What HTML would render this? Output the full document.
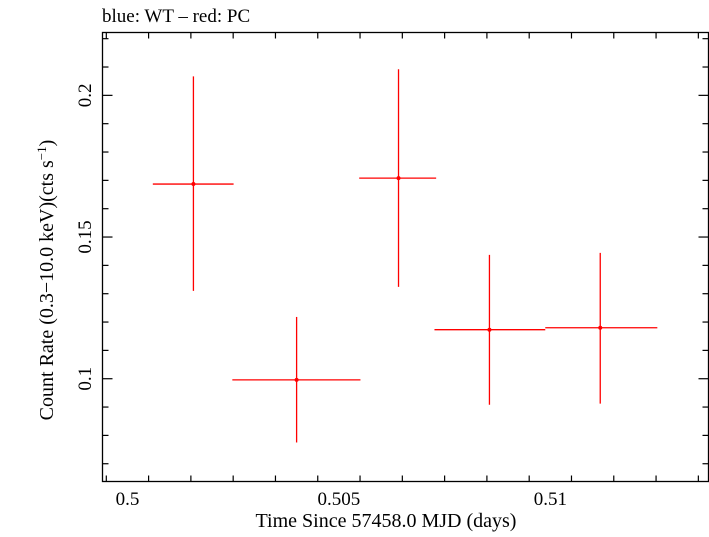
<!DOCTYPE html>
<html><head><meta charset="utf-8"><style>
html,body{margin:0;padding:0;background:#fff;overflow:hidden;}
svg text{font-family:"Liberation Serif",serif;fill:#000;}
</style></head><body>
<svg id="chart" width="709" height="532" viewBox="0 0 709 532" xmlns="http://www.w3.org/2000/svg">
<text x="102" y="22" font-size="19">blue: WT – red: PC</text>
<rect x="102.5" y="32.5" width="606" height="449" fill="none" stroke="#000" stroke-width="1.3"/>
<g id="axes"></g>
<g id="marks"></g>
<text x="386" y="527" font-size="20" text-anchor="middle">Time Since 57458.0 MJD (days)</text>
<text transform="translate(53,280) rotate(-90)" font-size="20" text-anchor="middle">Count Rate (0.3−10.0 keV)(cts s<tspan font-size="13" dy="-7">−1</tspan><tspan dy="7">)</tspan></text>
</svg>
<script>
const timeCenters=[0.50156,0.50400,0.50641,0.50856,0.51118];
const timeLow=[0.50060,0.50248,0.50548,0.50726,0.50988];
const timeHigh=[0.50251,0.50551,0.50730,0.50988,0.51253];
const rates=[0.1687,0.0996,0.1708,0.1173,0.1180];
const rateHigh=[0.2067,0.1218,0.2092,0.1437,0.1444];
const rateLow=[0.1310,0.0775,0.1324,0.0908,0.0912];
const xTicks=[0.5,0.505,0.51];
const xTickLabels=["0.5","0.505","0.51"];
const yTicks=[0.1,0.15,0.2];
const yTickLabels=["0.1","0.15","0.2"];

const X0=0.49941,X1=0.51374,PX0=102.5,PX1=708.5;
const Y0=0.06373,Y1=0.22218,PY0=481.5,PY1=32.5;
function xs(v){return PX0+(v-X0)/(X1-X0)*(PX1-PX0);}
function ys(v){return PY0+(v-Y0)/(Y1-Y0)*(PY1-PY0);}
const NS="http://www.w3.org/2000/svg";
function mk(tag,attrs,parent){const e=document.createElementNS(NS,tag);for(const k in attrs)e.setAttribute(k,attrs[k]);parent.appendChild(e);return e;}
const axes=document.getElementById('axes');
const marks=document.getElementById('marks');
for(let i=0;i<=14;i++){const v=0.4995+i*0.001;if(v<X0||v>X1)continue;
 const major=xTicks.some(m=>Math.abs(m-v)<1e-7);const L=major?10:6;
 const a=mk('line',{x1:xs(v),x2:xs(v),y1:PY0,y2:PY0-L,stroke:'#000','stroke-width':1.2},axes);
 
 
 const b=mk('line',{x1:xs(v),x2:xs(v),y1:PY1,y2:PY1+L,stroke:'#000','stroke-width':1.2},axes);
 
 
}
for(let i=0;i<=16;i++){const v=0.06+i*0.01;if(v<Y0||v>Y1)continue;
 const major=yTicks.some(m=>Math.abs(m-v)<1e-7);const L=major?10:6;
 const a=mk('line',{x1:PX0,x2:PX0+L,y1:ys(v),y2:ys(v),stroke:'#000','stroke-width':1.2},axes);
 
 
 const b=mk('line',{x1:PX1,x2:PX1-L,y1:ys(v),y2:ys(v),stroke:'#000','stroke-width':1.2},axes);
 
 
}
xTicks.forEach((v,i)=>{const t=mk('text',{x:xs(v),y:505,'font-size':19,'text-anchor':'middle'},axes);t.textContent=xTickLabels[i];
 
 });
yTicks.forEach((v,i)=>{const t=mk('text',{transform:`translate(91,${ys(v)}) rotate(-90)`,'font-size':19,'text-anchor':'middle'},axes);t.textContent=yTickLabels[i];
 
 });
timeCenters.forEach((c,i)=>{
 const g=mk('g',{},marks);
 
 
 mk('line',{x1:xs(timeLow[i]),x2:xs(timeHigh[i]),y1:ys(rates[i]),y2:ys(rates[i]),stroke:'#f00','stroke-width':1.3},g);
 mk('line',{x1:xs(c),x2:xs(c),y1:ys(rateLow[i]),y2:ys(rateHigh[i]),stroke:'#f00','stroke-width':1.3},g);
 mk('circle',{cx:xs(c),cy:ys(rates[i]),r:2,fill:'#f00'},g);
});
</script>
</body></html>
